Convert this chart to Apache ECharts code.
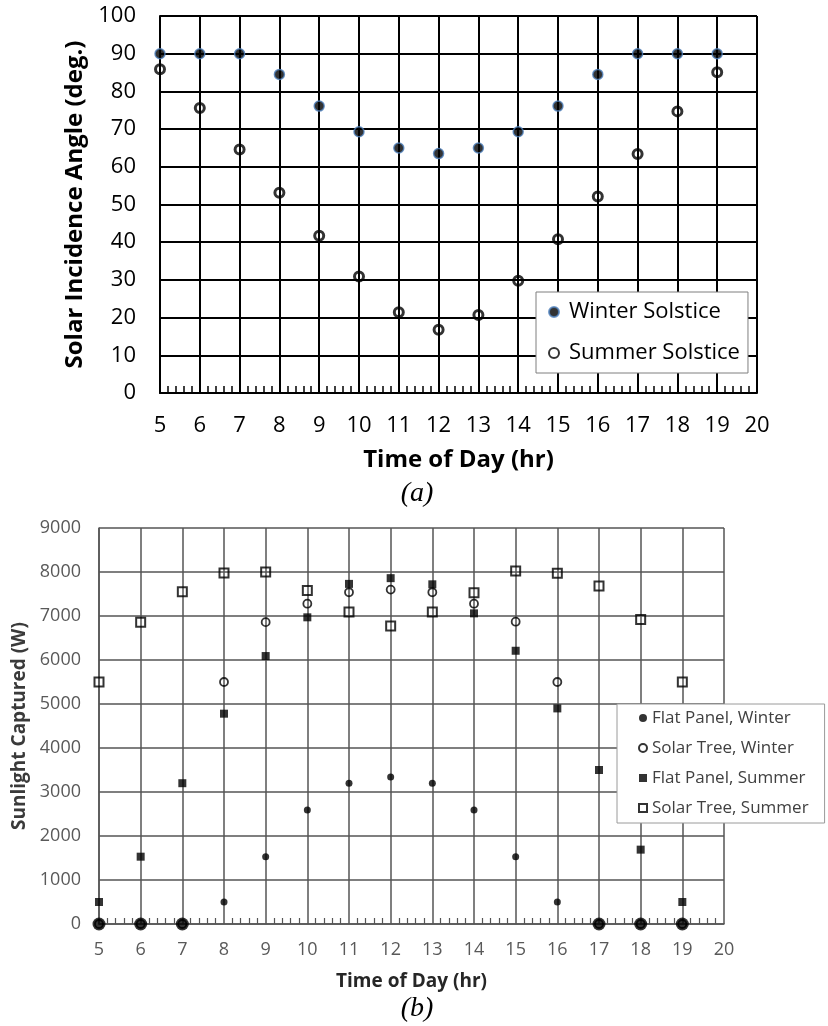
<!DOCTYPE html>
<html>
<head>
<meta charset="utf-8">
<script src="https://cdn.jsdelivr.net/npm/echarts@6/dist/echarts.min.js"></script>
<style>
html,body{margin:0;padding:0;background:#fff;}
#chart{width:828px;height:1026px;}
</style>
</head>
<body>
<div id="chart"></div>
<script>
// ---- Data ----
const hours = [5, 6, 7, 8, 9, 10, 11, 12, 13, 14, 15, 16, 17, 18, 19];

// (a) Solar incidence angle (deg.)
const winterSolstice = [90, 90, 90, 84.5, 76.1, 69.3, 65.0, 63.5, 65.0, 69.3, 76.1, 84.5, 90, 90, 90];
const summerSolstice = [85.9, 75.6, 64.6, 53.1, 41.7, 30.9, 21.4, 16.8, 20.7, 29.8, 40.8, 52.1, 63.4, 74.7, 85.1];

// (b) Sunlight captured (W)
const flatPanelWinter = [0, 0, 0, 500, 1530, 2590, 3200, 3340, 3200, 2590, 1530, 500, 0, 0, 0];
const solarTreeWinter = [0, 0, 0, 5500, 6860, 7280, 7540, 7600, 7540, 7280, 6870, 5500, 0, 0, 0];
const flatPanelSummer = [500, 1530, 3200, 4780, 6090, 6970, 7730, 7860, 7720, 7060, 6210, 4900, 3500, 1690, 500];
const solarTreeSummer = [5500, 6860, 7550, 7980, 8000, 7580, 7090, 6770, 7090, 7530, 8020, 7970, 7680, 6920, 5500];

const xTicks = {min: 5, max: 20, interval: 1};
const yTicksA = {min: 0, max: 100, interval: 10};
const yTicksB = {min: 0, max: 9000, interval: 1000};

const pairs = arr => hours.map((h, i) => [h, arr[i]]);

const FONT = '"Open Sans", "Noto Sans", sans-serif';
const GREY = '#595959';
const LINEB = '#555555';

const chart = echarts.init(document.getElementById('chart'), null, {renderer: 'canvas'});

const option = {
  animation: false,
  backgroundColor: '#ffffff',
  textStyle: {fontFamily: FONT},
  grid: [
    {left: 160, top: 16, width: 597, height: 377},
    {left: 99, top: 528, width: 625, height: 396}
  ],
  xAxis: [
    {
      gridIndex: 0, type: 'value', min: xTicks.min, max: xTicks.max, interval: xTicks.interval,
      name: 'Time of Day (hr)', nameLocation: 'middle', nameGap: 55,
      nameTextStyle: {fontSize: 24, fontWeight: 'bold', color: '#000', fontFamily: FONT},
      axisLine: {show: true, onZero: false, lineStyle: {color: '#000', width: 2}},
      axisTick: {show: false, inside: true, length: 7},
      minorTick: {show: true, splitNumber: 5, length: 7, lineStyle: {color: '#000', width: 1.5}},
      axisLabel: {fontSize: 22, color: '#000', margin: 22, fontFamily: FONT},
      splitLine: {show: true, lineStyle: {color: '#000', width: 2}}
    },
    {
      gridIndex: 1, type: 'value', min: xTicks.min, max: xTicks.max, interval: xTicks.interval,
      name: 'Time of Day (hr)', nameLocation: 'middle', nameGap: 48,
      nameTextStyle: {fontSize: 19, fontWeight: 'bold', color: '#262626', fontFamily: FONT},
      axisLine: {show: true, onZero: false, lineStyle: {color: LINEB, width: 1.5}},
      axisTick: {show: false, inside: true, length: 6},
      minorTick: {show: true, splitNumber: 5, length: 6, lineStyle: {color: LINEB, width: 1.2}},
      axisLabel: {fontSize: 18, color: GREY, margin: 17, fontFamily: FONT},
      splitLine: {show: true, lineStyle: {color: LINEB, width: 1.5}}
    }
  ],
  yAxis: [
    {
      gridIndex: 0, type: 'value', min: yTicksA.min, max: yTicksA.max, interval: yTicksA.interval,
      name: 'Solar Incidence Angle (deg.)', nameLocation: 'middle', nameGap: 71,
      nameTextStyle: {fontSize: 24, fontWeight: 'bold', color: '#000', fontFamily: FONT},
      axisLine: {show: true, lineStyle: {color: '#000', width: 2}},
      axisTick: {show: false},
      axisLabel: {fontSize: 22, color: '#000', margin: 24, fontFamily: FONT},
      splitLine: {show: true, lineStyle: {color: '#000', width: 2}}
    },
    {
      gridIndex: 1, type: 'value', min: yTicksB.min, max: yTicksB.max, interval: yTicksB.interval,
      name: 'Sunlight Captured (W)', nameLocation: 'middle', nameGap: 64,
      nameTextStyle: {fontSize: 19, fontWeight: 'bold', color: '#3a3a3a', fontFamily: FONT},
      axisLine: {show: true, lineStyle: {color: LINEB, width: 1.5}},
      axisTick: {show: false},
      axisLabel: {fontSize: 18, color: GREY, margin: 18, fontFamily: FONT, formatter: v => String(v)},
      splitLine: {show: true, lineStyle: {color: LINEB, width: 1.5}}
    }
  ],
  legend: [
    {
      data: ['Winter Solstice', 'Summer Solstice'],
      orient: 'vertical', left: 536, top: 292,
      padding: [9, 8, 9, 12], itemWidth: 10, itemHeight: 10, itemGap: 19,
      backgroundColor: '#ffffff', borderColor: '#7f7f7f', borderWidth: 1,
      textStyle: {fontSize: 22, lineHeight: 22, color: '#000', fontFamily: FONT, padding: [0, 0, 0, 5]}
    },
    {
      data: ['Flat Panel, Winter', 'Solar Tree, Winter', 'Flat Panel, Summer', 'Solar Tree, Summer'],
      orient: 'vertical', left: 617, top: 704,
      padding: [4, 16, 5, 21], itemWidth: 8, itemHeight: 8, itemGap: 10,
      backgroundColor: '#ffffff', borderColor: '#9a9a9a', borderWidth: 1,
      textStyle: {fontSize: 17, lineHeight: 20, color: '#404040', fontFamily: FONT}
    }
  ],
  series: [
    {
      name: 'Winter Solstice', type: 'scatter', xAxisIndex: 0, yAxisIndex: 0, clip: false,
      data: pairs(winterSolstice), symbol: 'circle', symbolSize: 10,
      itemStyle: {color: '#000', borderColor: '#4f81bd', borderWidth: 1.5}
    },
    {
      name: 'Summer Solstice', type: 'scatter', xAxisIndex: 0, yAxisIndex: 0, clip: false,
      data: pairs(summerSolstice), symbol: 'circle', symbolSize: 9,
      itemStyle: {color: 'rgba(0,0,0,0)', borderColor: '#000', borderWidth: 3}
    },
    {
      name: 'Flat Panel, Winter', type: 'scatter', xAxisIndex: 1, yAxisIndex: 1, clip: false,
      data: pairs(flatPanelWinter), symbol: 'circle',
      symbolSize: v => (v[1] === 0 ? 13 : 7),
      itemStyle: {color: '#000'}
    },
    {
      name: 'Solar Tree, Winter', type: 'scatter', xAxisIndex: 1, yAxisIndex: 1, clip: false,
      data: pairs(solarTreeWinter), symbol: 'circle', symbolSize: 8,
      itemStyle: {color: 'rgba(0,0,0,0)', borderColor: '#000', borderWidth: 1.8}
    },
    {
      name: 'Flat Panel, Summer', type: 'scatter', xAxisIndex: 1, yAxisIndex: 1, clip: false,
      data: pairs(flatPanelSummer), symbol: 'rect', symbolSize: 8,
      itemStyle: {color: '#000'}
    },
    {
      name: 'Solar Tree, Summer', type: 'scatter', xAxisIndex: 1, yAxisIndex: 1, clip: false,
      data: pairs(solarTreeSummer), symbol: 'rect', symbolSize: 9,
      itemStyle: {color: 'rgba(0,0,0,0)', borderColor: '#000', borderWidth: 2}
    }
  ],
  graphic: [
    {
      type: 'text', x: 417, y: 494,
      style: {text: '(a)', font: 'italic 28px "Liberation Serif", "DejaVu Serif", serif',
        fill: '#000', textAlign: 'center', textVerticalAlign: 'middle', align: 'center', verticalAlign: 'middle'}
    },
    {
      type: 'text', x: 417, y: 1009,
      style: {text: '(b)', font: 'italic 28px "Liberation Serif", "DejaVu Serif", serif',
        fill: '#000', textAlign: 'center', textVerticalAlign: 'middle', align: 'center', verticalAlign: 'middle'}
    }
  ]
};

chart.setOption(option);
</script>
</body>
</html>
